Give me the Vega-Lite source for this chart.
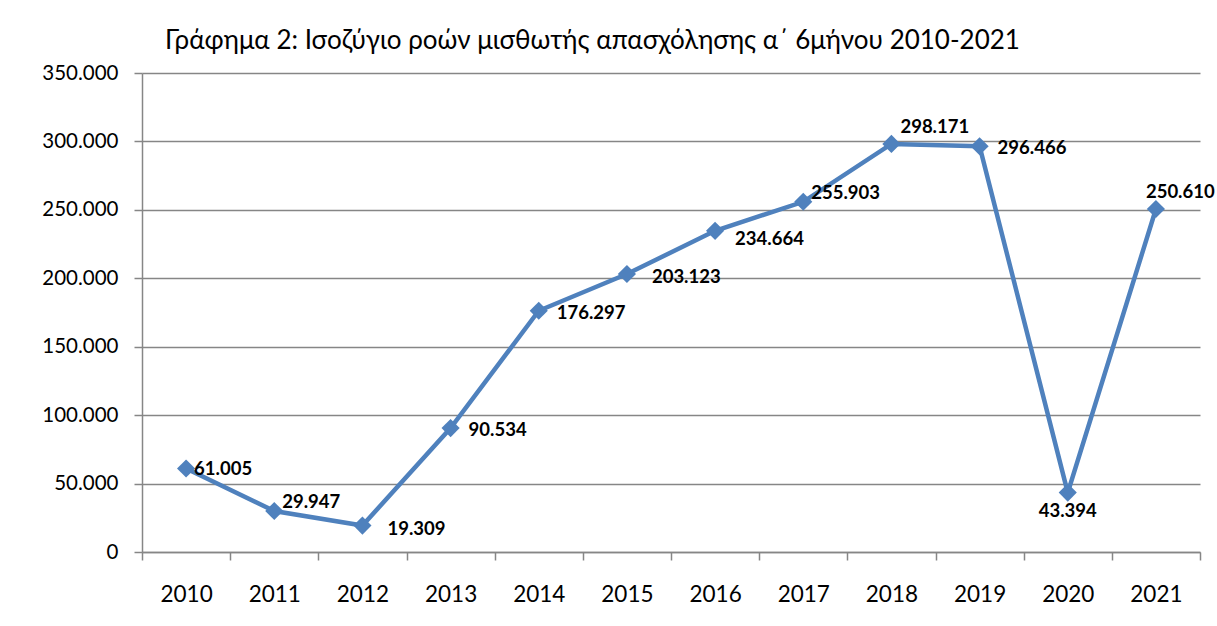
{
  "$schema": "https://vega.github.io/schema/vega-lite/v6.json",
  "width": 1058,
  "height": 479,
  "autosize": {"type": "none"},
  "padding": {"left": 142, "top": 73, "right": 17, "bottom": 74},
  "background": "white",
  "config": {
    "view": {"stroke": null},
    "font": "Lato",
    "locale": {"number": {"decimal": ",", "thousands": ".", "grouping": [3], "currency": ["", " €"]}}
  },
  "title": {
    "text": "Γράφημα 2: Ισοζύγιο ροών  μισθωτής απασχόλησης  α΄ 6μήνου 2010-2021",
    "anchor": "start",
    "frame": "group",
    "dx": 23,
    "offset": 9,
    "fontSize": 26,
    "fontWeight": "normal",
    "color": "black",
    "font": "Lato"
  },
  "data": {
    "values": [
      {"year": "2010", "value": 61005},
      {"year": "2011", "value": 29947},
      {"year": "2012", "value": 19309},
      {"year": "2013", "value": 90534},
      {"year": "2014", "value": 176297},
      {"year": "2015", "value": 203123},
      {"year": "2016", "value": 234664},
      {"year": "2017", "value": 255903},
      {"year": "2018", "value": 298171},
      {"year": "2019", "value": 296466},
      {"year": "2020", "value": 43394},
      {"year": "2021", "value": 250610}
    ]
  },
  "encoding": {
    "x": {
      "field": "year",
      "type": "ordinal",
      "scale": {"type": "band", "paddingInner": 0, "paddingOuter": 0},
      "axis": {
        "title": null,
        "labelAngle": 0,
        "labelFontSize": 22.5,
        "labelColor": "black",
        "labelPadding": 23,
        "tickBand": "extent",
        "tickSize": 8,
        "tickColor": "#868686",
        "tickWidth": 1.5,
        "domainColor": "#868686",
        "domainWidth": 1.5,
        "grid": false
      }
    },
    "y": {
      "field": "value",
      "type": "quantitative",
      "scale": {"domain": [0, 350000], "nice": false},
      "axis": {
        "title": null,
        "values": [0, 50000, 100000, 150000, 200000, 250000, 300000, 350000],
        "format": ",d",
        "labelFontSize": 20.5,
        "labelColor": "black",
        "labelPadding": 16,
        "tickSize": 8,
        "tickColor": "#868686",
        "tickWidth": 1.5,
        "domainColor": "#868686",
        "domainWidth": 1.5,
        "grid": true,
        "gridColor": "#868686",
        "gridWidth": 1.5
      }
    }
  },
  "layer": [
    {"mark": {"type": "line", "color": "#4f81bd", "strokeWidth": 4.5}},
    {"mark": {"type": "point", "shape": "diamond", "filled": true, "opacity": 1, "color": "#4f81bd", "size": 330}},
    {
      "transform": [{"filter": {"field": "year", "oneOf": ["2012", "2015"]}}],
      "mark": {"type": "text", "align": "left", "baseline": "middle", "dx": 25, "dy": 3, "fontSize": 18.5, "fontWeight": "bold", "color": "black"},
      "encoding": {"text": {"field": "value", "type": "quantitative", "format": ",d"}}
    },
    {
      "transform": [{"filter": {"field": "year", "oneOf": ["2013", "2014", "2019"]}}],
      "mark": {"type": "text", "align": "left", "baseline": "middle", "dx": 18, "dy": 2, "fontSize": 18.5, "fontWeight": "bold", "color": "black"},
      "encoding": {"text": {"field": "value", "type": "quantitative", "format": ",d"}}
    },
    {
      "transform": [{"filter": {"field": "year", "oneOf": ["2016"]}}],
      "mark": {"type": "text", "align": "left", "baseline": "middle", "dx": 20, "dy": 8, "fontSize": 18.5, "fontWeight": "bold", "color": "black"},
      "encoding": {"text": {"field": "value", "type": "quantitative", "format": ",d"}}
    },
    {
      "transform": [{"filter": {"field": "year", "oneOf": ["2011", "2017"]}}],
      "mark": {"type": "text", "align": "left", "baseline": "middle", "dx": 8, "dy": -9, "fontSize": 18.5, "fontWeight": "bold", "color": "black"},
      "encoding": {"text": {"field": "value", "type": "quantitative", "format": ",d"}}
    },
    {
      "transform": [{"filter": {"field": "year", "oneOf": ["2010"]}}],
      "mark": {"type": "text", "align": "left", "baseline": "middle", "dx": 8, "dy": 0, "fontSize": 18.5, "fontWeight": "bold", "color": "black"},
      "encoding": {"text": {"field": "value", "type": "quantitative", "format": ",d"}}
    },
    {
      "transform": [{"filter": {"field": "year", "oneOf": ["2018"]}}],
      "mark": {"type": "text", "align": "left", "baseline": "middle", "dx": 9, "dy": -17, "fontSize": 18.5, "fontWeight": "bold", "color": "black"},
      "encoding": {"text": {"field": "value", "type": "quantitative", "format": ",d"}}
    },
    {
      "transform": [{"filter": {"field": "year", "oneOf": ["2021"]}}],
      "mark": {"type": "text", "align": "left", "baseline": "middle", "dx": -10, "dy": -17, "fontSize": 18.5, "fontWeight": "bold", "color": "black"},
      "encoding": {"text": {"field": "value", "type": "quantitative", "format": ",d"}}
    },
    {
      "transform": [{"filter": {"field": "year", "oneOf": ["2020"]}}],
      "mark": {"type": "text", "align": "center", "baseline": "middle", "dx": 0, "dy": 18, "fontSize": 18.5, "fontWeight": "bold", "color": "black"},
      "encoding": {"text": {"field": "value", "type": "quantitative", "format": ",d"}}
    }
  ]
}
